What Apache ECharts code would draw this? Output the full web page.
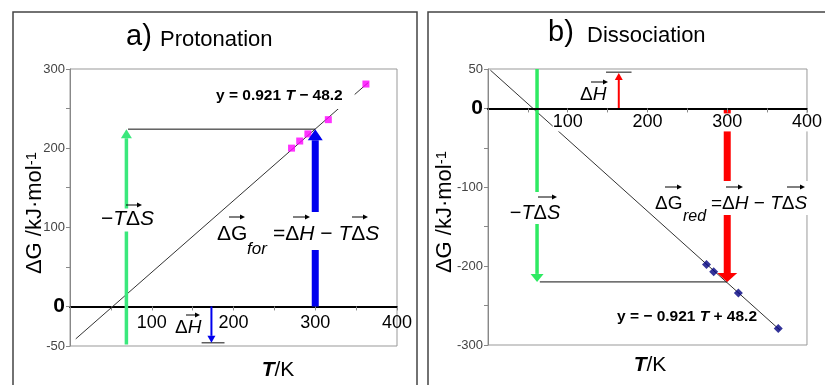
<!DOCTYPE html>
<html>
<head>
<meta charset="utf-8">
<script src="https://cdn.jsdelivr.net/npm/echarts@6/dist/echarts.min.js"></script>
<style>
html, body { margin: 0; padding: 0; background: #fff; }
#main { width: 825px; height: 385px; }
</style>
</head>
<body>
<div id="main"></div>
<script>
// temperatures (K) and free energies (kJ/mol)
const tempA = [271, 281, 291, 316, 362];
const dgA = [200, 209, 218, 236, 281];
const tempB = [274, 283, 314, 364];
const dgB = [-198, -207, -234, -279];

// trend lines, two ends each [T, dG]
const fitA = [[7, -41], [365, 283]];
const fitB = [[3, 48.5], [366, -281]];

// arrows [T, from, to] : -TdS, dG, dH
const arrowsA = [[69, -48, 224], [300, 0, 224], [173, 0, -46]];
const arrowsB = [[61.5, 50, -220], [300, 0, -220], [164, 0, 45]];

// thin black guides
const guidesA = [[[71, 224], [300, 224]], [[161, -46], [189, -46]]];
const guidesB = [[[65, -220], [300, -220]], [[148, 46], [180, 46]]];

const xTicks = [100, 200, 300, 400];
const yTicksA = [300, 200, 100, 0, -50];
const yTicksB = [50, 0, -100, -200, -300];
const yRangeA = [-50, 300];
const yRangeB = [-300, 50];

const font = 'Liberation Sans, Arial, sans-serif';

const grids = [
  { left: 70, top: 69, width: 327, height: 277 },
  { left: 488, top: 69, width: 328, height: 276 }
];

const lookA = [
  { color: '#3ae87c', w: 3.5, hw: 11, hh: 9 },
  { color: '#0000ee', w: 7, hw: 15, hh: 11 },
  { color: '#0000ee', w: 2, hw: 8, hh: 7 }
];
const lookB = [
  { color: '#2eea62', w: 3.5, hw: 13, hh: 8 },
  { color: '#ff0000', w: 7, hw: 20, hh: 9 },
  { color: '#ff0000', w: 2, hw: 8, hh: 7 }
];

// x axis sits on dG = 0, so shift it up from the grid bottom
function xAxisOf(gi, yr, z) {
  const off = -grids[gi].height * (0 - yr[0]) / (yr[1] - yr[0]);
  return {
    type: 'value', gridIndex: gi, min: 0, max: 400, interval: 50, z: z,
    position: 'bottom', offset: off,
    axisLine: { onZero: false, lineStyle: { color: '#000', width: 2 } },
    axisTick: { show: true, length: 4, lineStyle: { color: '#888' } },
    axisLabel: {
      formatter: v => xTicks.includes(v) ? String(v) : '',
      fontSize: 18, color: '#000', fontFamily: font, margin: gi === 0 ? 8 : 5,
      backgroundColor: gi === 1 ? '#fff' : 'transparent'
    },
    splitLine: { show: false }
  };
}

function yAxisOf(gi, yr, ticks) {
  return {
    type: 'value', gridIndex: gi, min: yr[0], max: yr[1], interval: 50,
    axisLine: { show: true, onZero: false, lineStyle: { color: '#888', width: 1 } },
    axisTick: { show: true, length: 4, lineStyle: { color: '#888' } },
    axisLabel: {
      formatter: v => ticks.includes(v) ? (v === 0 ? '{z|0}' : String(v)) : '',
      fontSize: 13, color: '#444', fontFamily: font, margin: 5,
      rich: { z: { fontSize: 21, fontWeight: 'bold', color: '#000', fontFamily: font } }
    },
    splitLine: { show: false }
  };
}

function arrowSeries(gi, a, look) {
  return {
    type: 'custom', xAxisIndex: gi, yAxisIndex: gi, data: [a], z: 5, silent: true,
    renderItem: (params, api) => {
      const p0 = api.coord([api.value(0), api.value(1)]);
      const p1 = api.coord([api.value(0), api.value(2)]);
      const d = p1[1] > p0[1] ? 1 : -1;
      const baseY = p1[1] - d * look.hh;
      return {
        type: 'group',
        children: [
          { type: 'rect', shape: { x: p0[0] - look.w / 2, y: Math.min(p0[1], baseY), width: look.w, height: Math.abs(baseY - p0[1]) }, style: { fill: look.color } },
          { type: 'polygon', shape: { points: [[p1[0], p1[1]], [p1[0] - look.hw / 2, baseY], [p1[0] + look.hw / 2, baseY]] }, style: { fill: look.color } }
        ]
      };
    }
  };
}

function lineSeries(gi, pts, color) {
  return {
    type: 'line', xAxisIndex: gi, yAxisIndex: gi, data: pts, symbol: 'none', silent: true, z: 3,
    lineStyle: { color: color, width: 1 }
  };
}

const series = [
  lineSeries(0, fitA, '#333'),
  lineSeries(1, fitB, '#333'),
  ...guidesA.map(g => lineSeries(0, g, '#111')),
  ...guidesB.map(g => lineSeries(1, g, '#111')),
  {
    type: 'scatter', xAxisIndex: 0, yAxisIndex: 0, symbol: 'rect', symbolSize: 7, z: 4,
    data: tempA.map((t, i) => [t, dgA[i]]), itemStyle: { color: '#ff00ff' }
  },
  {
    type: 'scatter', xAxisIndex: 1, yAxisIndex: 1, symbol: 'diamond', symbolSize: 9, z: 4,
    data: tempB.map((t, i) => [t, dgB[i]]), itemStyle: { color: '#000080' }
  },
  ...arrowsA.map((a, i) => arrowSeries(0, a, lookA[i])),
  ...arrowsB.map((a, i) => arrowSeries(1, a, lookB[i]))
];

const richIt = {
  i: { fontStyle: 'italic', fontFamily: font },
  b: { fontWeight: 'bold', fontFamily: font },
  bi: { fontWeight: 'bold', fontStyle: 'italic', fontFamily: font }
};

function txt(x, y, text, size, style, extra) {
  return Object.assign({
    type: 'text', x: x, y: y, z: 50, silent: true,
    style: Object.assign({
      text: text, fontSize: size, fontFamily: font, fill: '#000',
      align: 'left', verticalAlign: 'middle', textAlign: 'left', textVerticalAlign: 'middle',
      rich: Object.fromEntries(Object.entries(richIt).map(([k, v]) => [k, Object.assign({ fontSize: size }, v)]))
    }, style || {})
  }, extra || {});
}

// small vector arrow drawn over a symbol
function vec(x1, x2, y) {
  return [
    { type: 'line', z: 60, silent: true, shape: { x1: x1, y1: y, x2: x2 - 4, y2: y }, style: { stroke: '#000', lineWidth: 1 } },
    { type: 'polygon', z: 60, silent: true, shape: { points: [[x2, y], [x2 - 5, y - 2.5], [x2 - 5, y + 2.5]] }, style: { fill: '#000' } }
  ];
}

const white = { backgroundColor: '#fff' };
const yTitleRich = { a: { fontSize: 22, fontFamily: font }, s: { fontSize: 15, fontFamily: font, verticalAlign: 'top' } };

const graphic = [
  // panel frames
  { type: 'rect', z: 0, silent: true, shape: { x: 13, y: 12, width: 404, height: 400 }, style: { fill: 'none', stroke: '#444', lineWidth: 1.5 } },
  { type: 'rect', z: 0, silent: true, shape: { x: 428, y: 12, width: 420, height: 400 }, style: { fill: 'none', stroke: '#444', lineWidth: 1.5 } },

  // panel a
  txt(126, 37, 'a)', 29),
  txt(160, 40, 'Protonation', 22),
  txt(214, 97.5, '{b|y = 0.921 }{bi|T}{b| − 48.2}', 15.5, Object.assign({ padding: [2, 12, 5, 2] }, white)),
  txt(127.5, 220, '−{i|T}Δ{i|S}', 21, Object.assign({ align: 'center', textAlign: 'center', padding: [0, 1, 2, 1] }, white)),
  ...vec(126, 142, 205),
  txt(217, 234.5, 'ΔG', 21),
  txt(247, 249, '{i|for}', 17),
  txt(272, 231, '=Δ{i|H} − {i|T}Δ{i|S}', 21, Object.assign({ padding: [12, 1, 5, 1] }, white)),
  ...vec(229, 245, 217),
  ...vec(293, 310, 217),
  ...vec(352, 368, 217),
  txt(175, 327.5, 'Δ{i|H}', 19),
  ...vec(186, 200, 315),
  txt(35, 213, '{a|ΔG /kJ·mol}{s|-1}', 22, { align: 'center', textAlign: 'center', rich: yTitleRich }, { rotation: Math.PI / 2 }),
  txt(278, 370, '{t|T}/K', 21, { align: 'center', textAlign: 'center', rich: { t: { fontSize: 21, fontWeight: 'bold', fontStyle: 'italic', fontFamily: font } } }),

  // panel b
  txt(548, 33, 'b)', 29),
  txt(587, 36, 'Dissociation', 22),
  txt(580, 95, 'Δ{i|H}', 19),
  ...vec(591, 608, 82),
  txt(535, 208, '−{i|T}Δ{i|S}', 20, Object.assign({ align: 'center', textAlign: 'center', padding: [11, 1, 1, 1] }, white)),
  ...vec(538, 557, 197),
  txt(655, 203.5, 'ΔG', 19),
  txt(683, 217, '{i|red}', 16),
  txt(710, 198, '=Δ{i|H} − {i|T}Δ{i|S}', 19, Object.assign({ padding: [13, 1, 2, 1] }, white)),
  ...vec(665, 682, 187),
  ...vec(726, 743, 187),
  ...vec(787, 805, 187),
  txt(617, 317, '{b|y = − 0.921 }{bi|T}{b| + 48.2}', 15.5),
  txt(445, 212, '{a|ΔG /kJ·mol}{s|-1}', 22, { align: 'center', textAlign: 'center', rich: yTitleRich }, { rotation: Math.PI / 2 }),
  txt(650, 365, '{t|T}/K', 21, { align: 'center', textAlign: 'center', rich: { t: { fontSize: 21, fontWeight: 'bold', fontStyle: 'italic', fontFamily: font } } })
];

const chart = echarts.init(document.getElementById('main'));
chart.setOption({
  animation: false,
  backgroundColor: '#fff',
  grid: grids.map(g => Object.assign({ show: true, borderColor: '#999', borderWidth: 1, backgroundColor: 'transparent' }, g)),
  xAxis: [xAxisOf(0, yRangeA, 0), xAxisOf(1, yRangeB, 10)],
  yAxis: [yAxisOf(0, yRangeA, yTicksA), yAxisOf(1, yRangeB, yTicksB)],
  series: series,
  graphic: graphic
});
</script>
</body>
</html>
